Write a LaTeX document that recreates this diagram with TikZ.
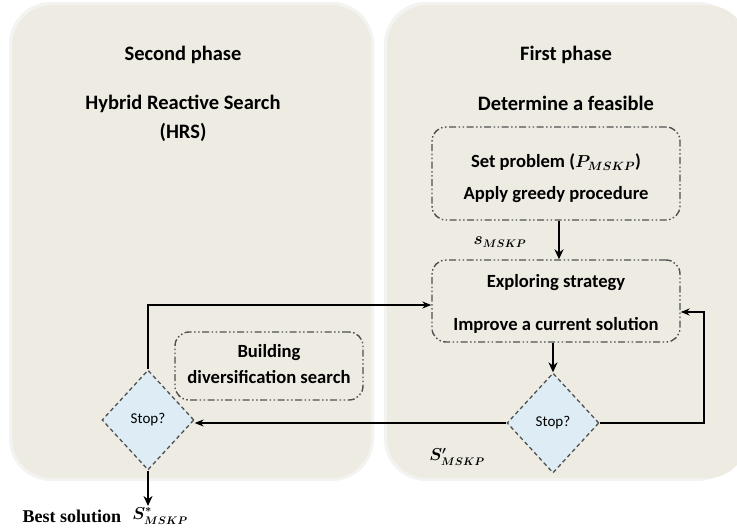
\documentclass[tikz,border=0pt]{standalone}
\usepackage{amsmath}
\usepackage{fontspec}
\setmainfont{Carlito}
\newfontfamily\serifbf{Liberation Serif}
\usetikzlibrary{shapes.geometric,arrows.meta}
\definecolor{panelfill}{RGB}{237,235,226}
\definecolor{panelshade}{RGB}{243,243,241}
\definecolor{diafill}{RGB}{222,237,245}
\definecolor{borderc}{RGB}{80,80,80}
\tikzset{
  panel/.style={fill=panelfill, draw=none, rounded corners=40pt},
  dashbox/.style={draw=borderc, line width=1.4pt, rounded corners=14pt,
    dash pattern=on 7pt off 2.5pt on 1.5pt off 2.5pt on 1.5pt off 2.5pt,
    minimum width=248pt, inner sep=0pt},
  decision/.style={diamond, draw=borderc, fill=diafill, line width=1.3pt,
    dash pattern=on 4pt off 3pt, inner sep=0pt, minimum width=92pt, minimum height=100pt,
    font=\fontsize{15}{17}\selectfont},
  head/.style={font=\bfseries\fontsize{20.5}{23}\selectfont, inner sep=0pt},
  btext/.style={font=\bfseries\fontsize{18.6}{21}\selectfont, inner sep=0pt},
  mlabel/.style={font=\boldmath\fontsize{16}{18}\selectfont, inner sep=0pt},
  conn/.style={line width=1.3pt, -{Stealth[length=9pt,width=7pt]}},
  thickconn/.style={line width=2.4pt, -{Stealth[length=10pt,width=9pt]}},
}
\begin{document}
\begin{tikzpicture}[x=1pt,y=-1pt]
\useasboundingbox (0,0) rectangle (737,532);
\fill[white] (0,0) rectangle (737,532);
% panels
\fill[panelshade, rounded corners=42pt] (9,2) rectangle (374,481);
\fill[panelshade, rounded corners=42pt] (384,2) rectangle (740,481);
\node[panel, minimum width=359pt, minimum height=473pt, anchor=north west] (lp) at (12,5) {};
\node[panel, minimum width=360pt, minimum height=473pt, anchor=north west] (rp) at (387,5) {};
% headings
\node[head] (t2) at (183,55) {Second phase};
\node[head] (h1) at (183,104) {Hybrid Reactive Search};
\node[head] (h2) at (183,132) {(HRS)};
\node[head] (t1) at (566,55) {First phase};
\node[head] (h3) at (566,103) {Determine a feasible};
% boxes
\node[dashbox, minimum height=93pt] (box1) at (556,173.5) {};
\node[btext] (b1a) at (556,162) {Set problem ({\boldmath$P_{MSKP}$})};
\node[btext] (b1b) at (556,195) {Apply greedy procedure};
\node[dashbox, minimum height=82pt] (box2) at (556,301) {};
\node[btext] (b2a) at (556,283) {Exploring strategy};
\node[btext] (b2b) at (556,325) {Improve a current solution};
\node[dashbox, minimum width=188pt, minimum height=68pt] (box3) at (269,366) {};
\node[btext] (b3a) at (269,353) {Building};
\node[btext] (b3b) at (269,377) {diversification search};
% decisions
\node[decision] (d1) at (553,423) {Stop?};
\node[decision] (d2) at (148,420) {Stop?};
% labels
\node[mlabel] (lbs) at (500,242) {$s_{MSKP}$};
\node[mlabel] (lbs2) at (457,457) {$S'_{MSKP}$};
\node[font=\serifbf\bfseries\fontsize{18}{20}\selectfont, inner sep=0pt] (best) at (72,516) {Best solution};
\node[mlabel] (lbs3) at (160,516) {$S^{*}_{MSKP}$};
% coordinates
\coordinate (r1) at (704,312);
\coordinate (l1) at (148,305);
\coordinate (bend) at (148,506);
% connectors
\draw[thickconn] (box1.south -| 559,0) -- (box2.north -| 559,0);
\draw[thickconn] (box2.south -| d1.north) -- (d1.north);
\draw[conn] (d1.west) -- (d1.west -| d2.east);
\draw[conn] (d1.east) -| (r1) -- (r1 -| box2.east);
\draw[conn] (d2.north) -- (l1) -- (l1 -| box2.west);
\draw[thickconn] (d2.south) -- (bend);
\end{tikzpicture}
\end{document}
